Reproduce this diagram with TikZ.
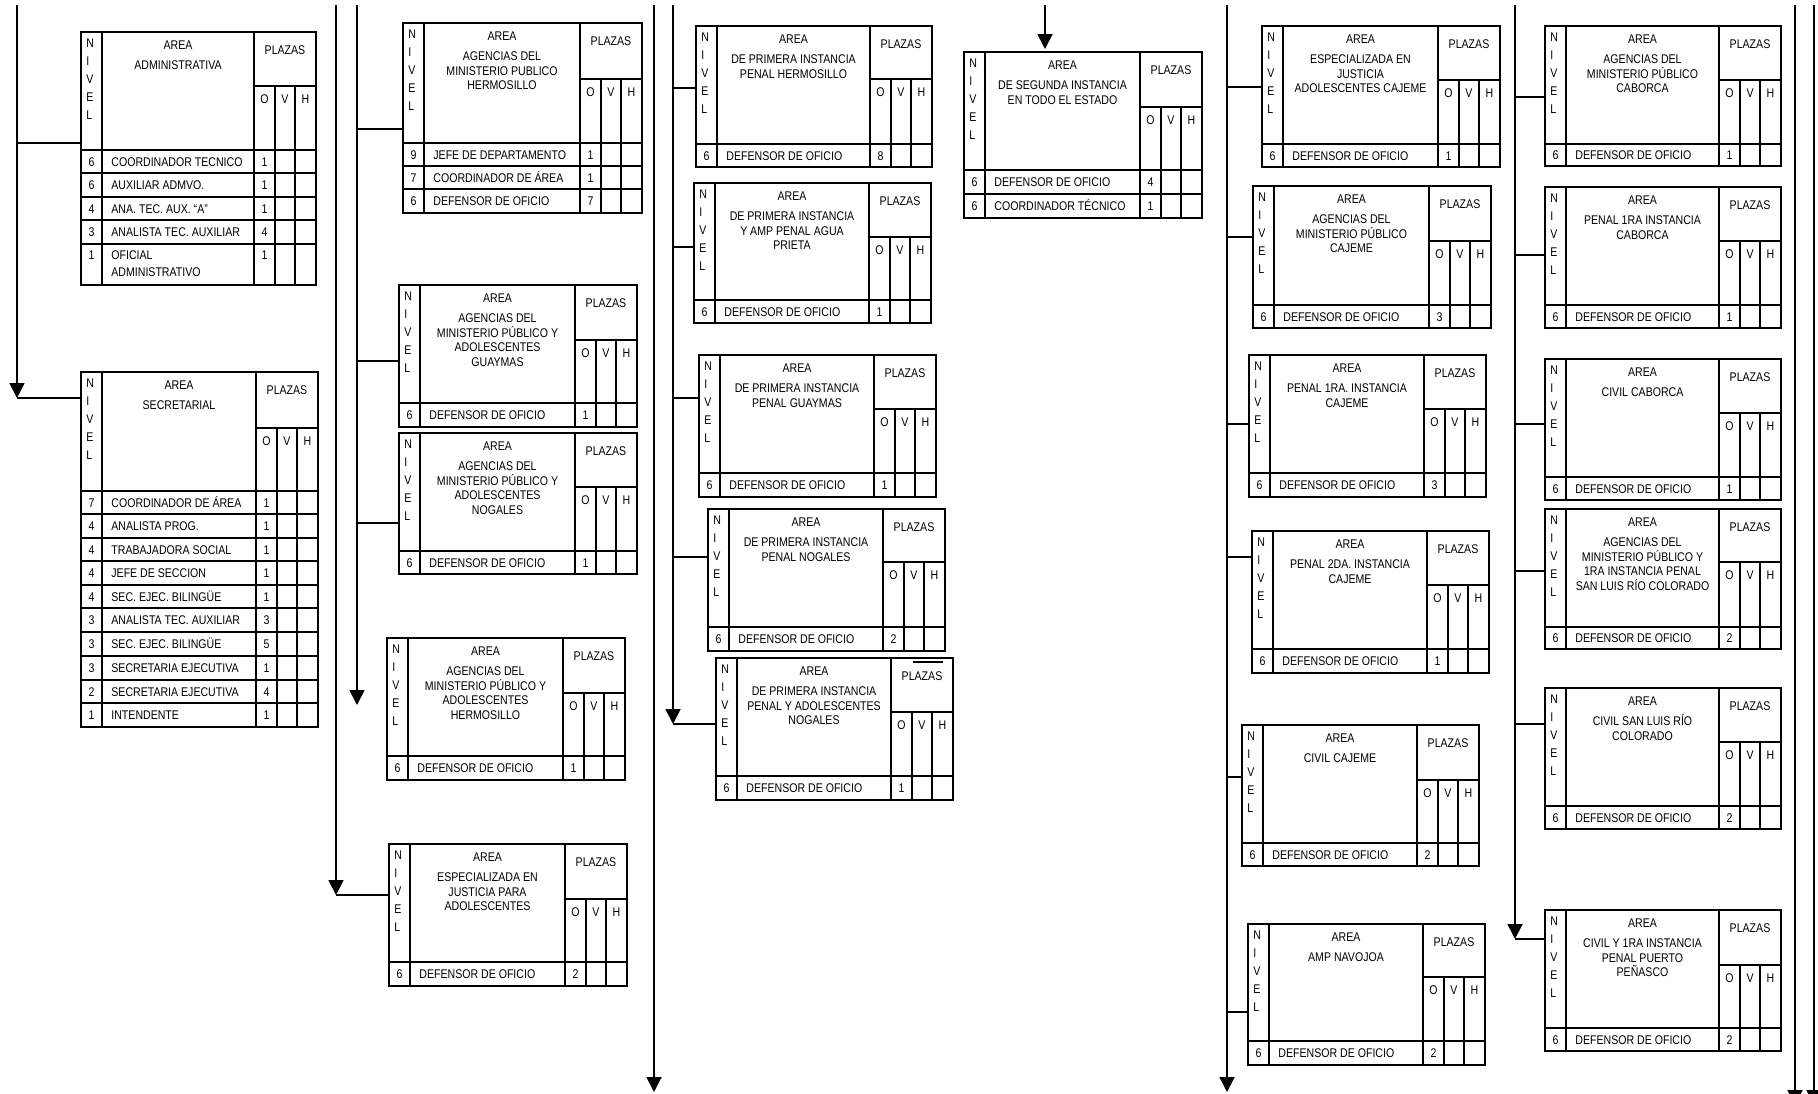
\documentclass[tikz,border=0pt]{standalone}
\usepackage{fontspec}
\newfontfamily\fs{Liberation Sans}[FakeStretch=0.84]
\usetikzlibrary{arrows.meta,fit}
\tikzset{
 txt/.style={inner sep=0pt, text height=4.5pt, text depth=0pt, font=\fs\fontsize{6.3pt}{7pt}\selectfont},
 cell/.style={line width=1pt},
 frame/.style={draw, line width=1pt, inner sep=0pt},
 link/.style={line width=0.9pt},
 arr/.style={link, -{Triangle[length=7.5pt,width=7.5pt]}},
}
% #1 name, #2 x1, #3 y1, #4 x2, #5 y2, #6 plazas header bottom, #7 header bottom, #8 subtitle lines, #9 rows
\newcommand\tbl[9]{%
  \coordinate (#1-nw) at (#2,#3);
  \coordinate (#1-se) at (#4,#5);
  \node[frame, fit=(#1-nw)(#1-se)] (#1) {};
  \draw[cell] (#2+21,#3) -- (#2+21,#5);
  \draw[cell] (#4-62,#3) -- (#4-62,#5);
  \draw[cell] (#4-62,#6) -- (#4,#6);
  \draw[cell] (#4-41,#6) -- (#4-41,#5);
  \draw[cell] (#4-21,#6) -- (#4-21,#5);
  \draw[cell] (#2,#7) -- (#4,#7);
  \foreach \L [count=\k from 0] in {N,I,V,E,L} {\node[txt,anchor=west] (#1-v\k) at ({#2+5},{#3+11+18*\k}) {\L};}
  \node[txt] (#1-area) at ({(#2+#4-41)/2},{#3+13}) {AREA};
  \foreach \s [count=\k from 0] in {#8} {\node[txt] (#1-s\k) at ({(#2+#4-41)/2},{#3+33+14.7*\k}) {\s};}
  \node[txt] (#1-pl) at ({#4-31},{#3+18}) {PLAZAS};
  \node[txt] (#1-po) at ({#4-51.5},{#6+13}) {O};
  \node[txt] (#1-pv) at ({#4-31},{#6+13}) {V};
  \node[txt] (#1-ph) at ({#4-10.5},{#6+13}) {H};
  \foreach \yb/\n/\t/\o [remember=\yb as \yp (initially #7)] in {#9} {
    \draw[cell] (#2,\yb) -- (#4,\yb);
    \node[txt] (#1-n\yb) at ({#2+10.5},{(\yp+\yb)/2}) {\n};
    \node[txt,anchor=west] (#1-t\yb) at ({#2+30},{(\yp+\yb)/2}) {\t};
    \node[txt] (#1-o\yb) at ({#4-51.5},{(\yp+\yb)/2}) {\o};
  }
}
\newcommand\br[3]{\coordinate (#1) at #2; \draw[link] (#1) -- (#1 -| #3.west);}
\begin{document}
\begin{tikzpicture}[x=0.5pt,y=-0.5pt]
\useasboundingbox (0,0) rectangle (1818,1093);
\clip (0,0) rectangle (1818,1093);
\fill[white] (0,0) rectangle (1818,1093);

% ---------- tables ----------
\tbl{A}{81}{32}{316}{285}{86}{150}{ADMINISTRATIVA}{173/6/COORDINADOR TECNICO/1,197/6/AUXILIAR ADMVO./1,220/4/ANA. TEC. AUX. “A”/1,244/3/ANALISTA TEC. AUXILIAR/4,285/{}/{}/{}}
\node[txt] (A-n1) at (91.5,255) {1};
\node[txt,anchor=west] (A-t1) at (111,255) {OFICIAL};
\node[txt,anchor=west] (A-t2) at (111,272) {ADMINISTRATIVO};
\node[txt] (A-o1) at (264.5,255) {1};

\tbl{B}{81}{372}{318}{727}{428}{491}{SECRETARIAL}{514/7/COORDINADOR DE ÁREA/1,538/4/ANALISTA PROG./1,561/4/TRABAJADORA SOCIAL/1,585/4/JEFE DE SECCION/1,608/4/SEC. EJEC. BILINGÜE/1,632/3/ANALISTA TEC. AUXILIAR/3,656/3/SEC. EJEC. BILINGÜE/5,680/3/SECRETARIA EJECUTIVA/1,703/2/SECRETARIA EJECUTIVA/4,727/1/INTENDENTE/1}

\tbl{C}{403}{23}{642}{213}{79}{143}{AGENCIAS DEL,MINISTERIO PUBLICO,HERMOSILLO}{166/9/JEFE DE DEPARTAMENTO/1,189/7/COORDINADOR DE ÁREA/1,213/6/DEFENSOR DE OFICIO/7}
\tbl{D}{399}{285}{637}{427}{340}{403}{AGENCIAS DEL,MINISTERIO PÚBLICO Y,ADOLESCENTES,GUAYMAS}{427/6/DEFENSOR DE OFICIO/1}
\tbl{E}{399}{433}{637}{574}{487}{551}{AGENCIAS DEL,MINISTERIO PÚBLICO Y,ADOLESCENTES,NOGALES}{574/6/DEFENSOR DE OFICIO/1}
\tbl{F}{387}{638}{625}{780}{693}{756}{AGENCIAS DEL,MINISTERIO PÚBLICO Y,ADOLESCENTES,HERMOSILLO}{780/6/DEFENSOR DE OFICIO/1}
\tbl{G}{389}{844}{627}{986}{899}{962}{ESPECIALIZADA EN,JUSTICIA PARA,ADOLESCENTES}{986/6/DEFENSOR DE OFICIO/2}

\tbl{H}{696}{26}{932}{167}{79}{144}{DE PRIMERA INSTANCIA,PENAL  HERMOSILLO}{167/6/DEFENSOR DE OFICIO/8}
\tbl{I}{694}{183}{931}{323}{237}{300}{DE PRIMERA INSTANCIA,Y AMP PENAL  AGUA,PRIETA}{323/6/DEFENSOR DE OFICIO/1}
\tbl{J}{699}{355}{936}{497}{409}{473}{DE PRIMERA INSTANCIA,PENAL  GUAYMAS}{497/6/DEFENSOR DE OFICIO/1}
\tbl{K}{708}{509}{945}{651}{562}{627}{DE PRIMERA INSTANCIA,PENAL NOGALES}{651/6/DEFENSOR DE OFICIO/2}
\tbl{L}{716}{658}{953}{800}{712}{776}{DE PRIMERA INSTANCIA,PENAL Y ADOLESCENTES,NOGALES}{800/6/DEFENSOR DE OFICIO/1}
\draw[cell] (913,662) -- (943,662);

\tbl{SEG}{964}{52}{1202}{218}{107}{170}{DE SEGUNDA INSTANCIA,EN TODO EL ESTADO}{194/6/DEFENSOR DE OFICIO/4,218/6/COORDINADOR TÉCNICO/1}

\tbl{M}{1262}{26}{1500}{167}{80}{144}{ESPECIALIZADA EN,JUSTICIA,ADOLESCENTES CAJEME}{167/6/DEFENSOR DE OFICIO/1}
\tbl{N}{1253}{186}{1491}{328}{241}{305}{AGENCIAS DEL,MINISTERIO PÚBLICO,CAJEME}{328/6/DEFENSOR DE OFICIO/3}
\tbl{O}{1249}{355}{1486}{497}{409}{473}{PENAL 1RA. INSTANCIA,CAJEME}{497/6/DEFENSOR DE OFICIO/3}
\tbl{P}{1252}{531}{1489}{673}{585}{649}{PENAL 2DA. INSTANCIA,CAJEME}{673/6/DEFENSOR DE OFICIO/1}
\tbl{Q}{1242}{725}{1479}{866}{780}{843}{CIVIL CAJEME}{866/6/DEFENSOR DE OFICIO/2}
\tbl{R}{1248}{924}{1485}{1065}{977}{1041}{AMP NAVOJOA}{1065/6/DEFENSOR DE OFICIO/2}

\tbl{S}{1545}{26}{1781}{166}{80}{144}{AGENCIAS DEL,MINISTERIO PÚBLICO,CABORCA}{166/6/DEFENSOR DE OFICIO/1}
\tbl{T}{1545}{187}{1781}{328}{241}{305}{PENAL 1RA INSTANCIA,CABORCA}{328/6/DEFENSOR DE OFICIO/1}
\tbl{U}{1545}{359}{1781}{500}{413}{477}{CIVIL CABORCA}{500/6/DEFENSOR DE OFICIO/1}
\tbl{V}{1545}{509}{1781}{649}{562}{627}{AGENCIAS DEL,MINISTERIO PÚBLICO Y,1RA INSTANCIA PENAL,SAN LUIS RÍO COLORADO}{649/6/DEFENSOR DE OFICIO/2}
\tbl{W}{1545}{688}{1781}{829}{742}{806}{CIVIL SAN LUIS RÍO,COLORADO}{829/6/DEFENSOR DE OFICIO/2}
\tbl{X}{1545}{910}{1781}{1051}{965}{1028}{CIVIL Y 1RA INSTANCIA,PENAL PUERTO,PEÑASCO}{1051/6/DEFENSOR DE OFICIO/2}

% ---------- trunk lines ----------
\coordinate (t1a) at (17,5); \coordinate (t1b) at (17,398);
\draw[arr] (t1a) -- (t1b);
\br{b1a}{(17,143)}{A}
\draw[link] (t1b) -- (t1b -| B.west);

\coordinate (t2a) at (336,5); \coordinate (t2b) at (336,895);
\draw[arr] (t2a) -- (t2b);
\draw[link] (t2b) -- (t2b -| G.west);

\coordinate (t3a) at (357,5); \coordinate (t3b) at (357,705);
\draw[arr] (t3a) -- (t3b);
\br{b3a}{(357,129)}{C}
\br{b3b}{(357,361)}{D}
\br{b3c}{(357,523)}{E}

\coordinate (t4a) at (654,5); \coordinate (t4b) at (654,1092);
\draw[arr] (t4a) -- (t4b);

\coordinate (t5a) at (673,5); \coordinate (t5b) at (673,724);
\draw[arr] (t5a) -- (t5b);
\br{b5a}{(673,88)}{H}
\br{b5b}{(673,247)}{I}
\br{b5c}{(673,398)}{J}
\br{b5d}{(673,557)}{K}
\draw[link] (t5b) -- (t5b -| L.west);

\coordinate (t6a) at (1045,5);
\draw[arr, shorten >=1pt] (t6a) -- (t6a |- SEG.north);

\coordinate (t7a) at (1227,5); \coordinate (t7b) at (1227,1092);
\draw[arr] (t7a) -- (t7b);
\br{b7a}{(1227,87)}{M}
\br{b7b}{(1227,237)}{N}
\br{b7c}{(1227,424)}{O}
\br{b7d}{(1227,557)}{P}
\br{b7e}{(1227,777)}{Q}
\br{b7f}{(1227,1012)}{R}

\coordinate (t8a) at (1515,5); \coordinate (t8b) at (1515,939);
\draw[arr] (t8a) -- (t8b);
\br{b8a}{(1515,97)}{S}
\br{b8b}{(1515,255)}{T}
\br{b8c}{(1515,424)}{U}
\br{b8d}{(1515,571)}{V}
\br{b8e}{(1515,724)}{W}
\draw[link] (t8b) -- (t8b -| X.west);

\coordinate (t9a) at (1795,5); \coordinate (t9b) at (1795,1105);
\draw[arr] (t9a) -- (t9b);
\coordinate (t10a) at (1814,5); \coordinate (t10b) at (1814,1105);
\draw[arr] (t10a) -- (t10b);
\end{tikzpicture}
\end{document}
